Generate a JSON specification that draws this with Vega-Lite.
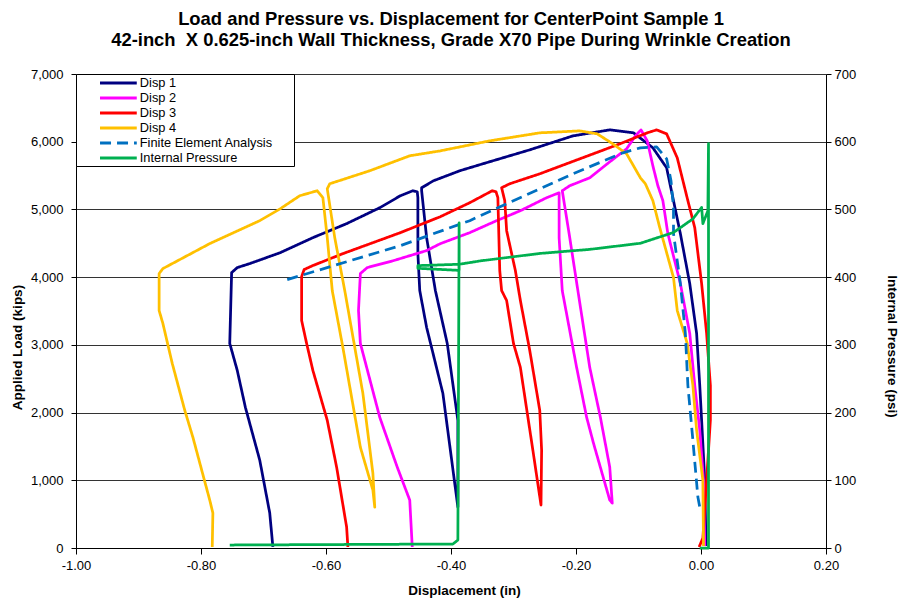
{
  "$schema": "https://vega.github.io/schema/vega-lite/v6.json",
  "width": 750,
  "height": 474,
  "autosize": {"type": "none"},
  "padding": {"left": 76, "top": 74, "right": 74, "bottom": 50},
  "background": "white",
  "title": {
    "text": ["Load and Pressure vs. Displacement for CenterPoint Sample 1", "42-inch\u00a0 X 0.625-inch Wall Thickness, Grade X70 Pipe During Wrinkle Creation"],
    "anchor": "middle",
    "fontSize": 18.4,
    "fontWeight": "bold",
    "font": "Liberation Sans",
    "color": "black",
    "lineHeight": 21,
    "offset": 18.5
  },
  "datasets": {
    "load": [
      {"series":"Disp 1","i":1,"disp":0.008,"load":29},
      {"series":"Disp 1","i":2,"disp":0.006,"load":1002},
      {"series":"Disp 1","i":3,"disp":0.001,"load":1886},
      {"series":"Disp 1","i":4,"disp":-0.002,"load":2402},
      {"series":"Disp 1","i":5,"disp":-0.007,"load":3168},
      {"series":"Disp 1","i":6,"disp":-0.018,"load":3905},
      {"series":"Disp 1","i":7,"disp":-0.033,"load":4642},
      {"series":"Disp 1","i":8,"disp":-0.044,"load":5129},
      {"series":"Disp 1","i":9,"disp":-0.055,"load":5615},
      {"series":"Disp 1","i":10,"disp":-0.077,"load":5910},
      {"series":"Disp 1","i":11,"disp":-0.108,"load":6131},
      {"series":"Disp 1","i":12,"disp":-0.146,"load":6175},
      {"series":"Disp 1","i":13,"disp":-0.205,"load":6086},
      {"series":"Disp 1","i":14,"disp":-0.274,"load":5880},
      {"series":"Disp 1","i":15,"disp":-0.349,"load":5674},
      {"series":"Disp 1","i":16,"disp":-0.386,"load":5571},
      {"series":"Disp 1","i":17,"disp":-0.428,"load":5423},
      {"series":"Disp 1","i":18,"disp":-0.447,"load":5320},
      {"series":"Disp 1","i":19,"disp":-0.447,"load":5276},
      {"series":"Disp 1","i":20,"disp":-0.439,"load":4583},
      {"series":"Disp 1","i":21,"disp":-0.425,"load":3802},
      {"series":"Disp 1","i":22,"disp":-0.406,"load":3021},
      {"series":"Disp 1","i":23,"disp":-0.389,"load":1886},
      {"series":"Disp 1","i":24,"disp":-0.389,"load":604},
      {"series":"Disp 1","i":25,"disp":-0.413,"load":2284},
      {"series":"Disp 1","i":26,"disp":-0.439,"load":3257},
      {"series":"Disp 1","i":27,"disp":-0.450,"load":3802},
      {"series":"Disp 1","i":28,"disp":-0.453,"load":4347},
      {"series":"Disp 1","i":29,"disp":-0.453,"load":5173},
      {"series":"Disp 1","i":30,"disp":-0.454,"load":5261},
      {"series":"Disp 1","i":31,"disp":-0.461,"load":5276},
      {"series":"Disp 1","i":32,"disp":-0.481,"load":5202},
      {"series":"Disp 1","i":33,"disp":-0.514,"load":5025},
      {"series":"Disp 1","i":34,"disp":-0.567,"load":4790},
      {"series":"Disp 1","i":35,"disp":-0.621,"load":4583},
      {"series":"Disp 1","i":36,"disp":-0.673,"load":4362},
      {"series":"Disp 1","i":37,"disp":-0.722,"load":4200},
      {"series":"Disp 1","i":38,"disp":-0.742,"load":4141},
      {"series":"Disp 1","i":39,"disp":-0.751,"load":4067},
      {"series":"Disp 1","i":40,"disp":-0.754,"load":3021},
      {"series":"Disp 1","i":41,"disp":-0.742,"load":2623},
      {"series":"Disp 1","i":42,"disp":-0.729,"load":2078},
      {"series":"Disp 1","i":43,"disp":-0.706,"load":1297},
      {"series":"Disp 1","i":44,"disp":-0.690,"load":516},
      {"series":"Disp 1","i":45,"disp":-0.685,"load":15},

      {"series":"Disp 2","i":1,"disp":0.006,"load":29},
      {"series":"Disp 2","i":2,"disp":0.004,"load":1002},
      {"series":"Disp 2","i":3,"disp":-0.002,"load":1739},
      {"series":"Disp 2","i":4,"disp":-0.010,"load":2402},
      {"series":"Disp 2","i":5,"disp":-0.018,"load":3168},
      {"series":"Disp 2","i":6,"disp":-0.033,"load":3905},
      {"series":"Disp 2","i":7,"disp":-0.053,"load":4642},
      {"series":"Disp 2","i":8,"disp":-0.061,"load":5129},
      {"series":"Disp 2","i":9,"disp":-0.069,"load":5350},
      {"series":"Disp 2","i":10,"disp":-0.077,"load":5644},
      {"series":"Disp 2","i":11,"disp":-0.086,"load":6013},
      {"series":"Disp 2","i":12,"disp":-0.096,"load":6175},
      {"series":"Disp 2","i":13,"disp":-0.105,"load":6086},
      {"series":"Disp 2","i":14,"disp":-0.119,"load":5895},
      {"series":"Disp 2","i":15,"disp":-0.150,"load":5674},
      {"series":"Disp 2","i":16,"disp":-0.178,"load":5467},
      {"series":"Disp 2","i":17,"disp":-0.210,"load":5350},
      {"series":"Disp 2","i":18,"disp":-0.222,"load":5276},
      {"series":"Disp 2","i":19,"disp":-0.210,"load":4583},
      {"series":"Disp 2","i":20,"disp":-0.197,"load":3802},
      {"series":"Disp 2","i":21,"disp":-0.178,"load":2667},
      {"series":"Disp 2","i":22,"disp":-0.161,"load":1931},
      {"series":"Disp 2","i":23,"disp":-0.146,"load":1194},
      {"series":"Disp 2","i":24,"disp":-0.142,"load":663},
      {"series":"Disp 2","i":25,"disp":-0.146,"load":707},
      {"series":"Disp 2","i":26,"disp":-0.172,"load":1547},
      {"series":"Disp 2","i":27,"disp":-0.183,"load":1931},
      {"series":"Disp 2","i":28,"disp":-0.199,"load":2667},
      {"series":"Disp 2","i":29,"disp":-0.222,"load":3802},
      {"series":"Disp 2","i":30,"disp":-0.227,"load":4583},
      {"series":"Disp 2","i":31,"disp":-0.227,"load":5246},
      {"series":"Disp 2","i":32,"disp":-0.247,"load":5173},
      {"series":"Disp 2","i":33,"disp":-0.289,"load":4981},
      {"series":"Disp 2","i":34,"disp":-0.327,"load":4834},
      {"series":"Disp 2","i":35,"disp":-0.370,"load":4657},
      {"series":"Disp 2","i":36,"disp":-0.417,"load":4495},
      {"series":"Disp 2","i":37,"disp":-0.439,"load":4392},
      {"series":"Disp 2","i":38,"disp":-0.492,"load":4244},
      {"series":"Disp 2","i":39,"disp":-0.534,"load":4141},
      {"series":"Disp 2","i":40,"disp":-0.545,"load":4053},
      {"series":"Disp 2","i":41,"disp":-0.548,"load":3507},
      {"series":"Disp 2","i":42,"disp":-0.545,"load":3021},
      {"series":"Disp 2","i":43,"disp":-0.514,"load":1931},
      {"series":"Disp 2","i":44,"disp":-0.486,"load":1194},
      {"series":"Disp 2","i":45,"disp":-0.466,"load":707},
      {"series":"Disp 2","i":46,"disp":-0.462,"load":15},

      {"series":"Disp 3","i":1,"disp":-0.003,"load":15},
      {"series":"Disp 3","i":2,"disp":0.003,"load":147},
      {"series":"Disp 3","i":3,"disp":0.009,"load":1002},
      {"series":"Disp 3","i":4,"disp":0.015,"load":1886},
      {"series":"Disp 3","i":5,"disp":0.015,"load":2402},
      {"series":"Disp 3","i":6,"disp":0.009,"load":3168},
      {"series":"Disp 3","i":7,"disp":0.001,"load":3905},
      {"series":"Disp 3","i":8,"disp":-0.010,"load":4731},
      {"series":"Disp 3","i":9,"disp":-0.021,"load":5129},
      {"series":"Disp 3","i":10,"disp":-0.038,"load":5762},
      {"series":"Disp 3","i":11,"disp":-0.055,"load":6116},
      {"series":"Disp 3","i":12,"disp":-0.071,"load":6175},
      {"series":"Disp 3","i":13,"disp":-0.086,"load":6131},
      {"series":"Disp 3","i":14,"disp":-0.130,"load":5968},
      {"series":"Disp 3","i":15,"disp":-0.258,"load":5526},
      {"series":"Disp 3","i":16,"disp":-0.306,"load":5379},
      {"series":"Disp 3","i":17,"disp":-0.319,"load":5320},
      {"series":"Disp 3","i":18,"disp":-0.314,"load":5129},
      {"series":"Disp 3","i":19,"disp":-0.311,"load":4686},
      {"series":"Disp 3","i":20,"disp":-0.297,"load":4097},
      {"series":"Disp 3","i":21,"disp":-0.289,"load":3655},
      {"series":"Disp 3","i":22,"disp":-0.274,"load":2918},
      {"series":"Disp 3","i":23,"disp":-0.258,"load":2034},
      {"series":"Disp 3","i":24,"disp":-0.255,"load":1444},
      {"series":"Disp 3","i":25,"disp":-0.256,"load":634},
      {"series":"Disp 3","i":26,"disp":-0.269,"load":1444},
      {"series":"Disp 3","i":27,"disp":-0.289,"load":2667},
      {"series":"Disp 3","i":28,"disp":-0.300,"load":3021},
      {"series":"Disp 3","i":29,"disp":-0.311,"load":3655},
      {"series":"Disp 3","i":30,"disp":-0.319,"load":3802},
      {"series":"Disp 3","i":31,"disp":-0.322,"load":4097},
      {"series":"Disp 3","i":32,"disp":-0.325,"load":5173},
      {"series":"Disp 3","i":33,"disp":-0.328,"load":5261},
      {"series":"Disp 3","i":34,"disp":-0.334,"load":5276},
      {"series":"Disp 3","i":35,"disp":-0.370,"load":5099},
      {"series":"Disp 3","i":36,"disp":-0.417,"load":4893},
      {"series":"Disp 3","i":37,"disp":-0.481,"load":4657},
      {"series":"Disp 3","i":38,"disp":-0.573,"load":4347},
      {"series":"Disp 3","i":39,"disp":-0.621,"load":4171},
      {"series":"Disp 3","i":40,"disp":-0.635,"load":4112},
      {"series":"Disp 3","i":41,"disp":-0.639,"load":4008},
      {"series":"Disp 3","i":42,"disp":-0.639,"load":3360},
      {"series":"Disp 3","i":43,"disp":-0.631,"load":3021},
      {"series":"Disp 3","i":44,"disp":-0.621,"load":2623},
      {"series":"Disp 3","i":45,"disp":-0.598,"load":1886},
      {"series":"Disp 3","i":46,"disp":-0.583,"load":1194},
      {"series":"Disp 3","i":47,"disp":-0.567,"load":309},
      {"series":"Disp 3","i":48,"disp":-0.565,"load":15},

      {"series":"Disp 4","i":1,"disp":0.004,"load":29},
      {"series":"Disp 4","i":2,"disp":0.003,"load":1002},
      {"series":"Disp 4","i":3,"disp":-0.007,"load":1739},
      {"series":"Disp 4","i":4,"disp":-0.013,"load":2402},
      {"series":"Disp 4","i":5,"disp":-0.022,"load":3021},
      {"series":"Disp 4","i":6,"disp":-0.038,"load":3507},
      {"series":"Disp 4","i":7,"disp":-0.044,"load":3994},
      {"series":"Disp 4","i":8,"disp":-0.066,"load":4731},
      {"series":"Disp 4","i":9,"disp":-0.077,"load":5129},
      {"series":"Disp 4","i":10,"disp":-0.089,"load":5379},
      {"series":"Disp 4","i":11,"disp":-0.097,"load":5467},
      {"series":"Disp 4","i":12,"disp":-0.119,"load":5821},
      {"series":"Disp 4","i":13,"disp":-0.141,"load":5968},
      {"series":"Disp 4","i":14,"disp":-0.166,"load":6116},
      {"series":"Disp 4","i":15,"disp":-0.194,"load":6160},
      {"series":"Disp 4","i":16,"disp":-0.258,"load":6131},
      {"series":"Disp 4","i":17,"disp":-0.338,"load":6013},
      {"series":"Disp 4","i":18,"disp":-0.417,"load":5865},
      {"series":"Disp 4","i":19,"disp":-0.466,"load":5792},
      {"series":"Disp 4","i":20,"disp":-0.530,"load":5571},
      {"series":"Disp 4","i":21,"disp":-0.594,"load":5379},
      {"series":"Disp 4","i":22,"disp":-0.598,"load":5305},
      {"series":"Disp 4","i":23,"disp":-0.586,"load":4583},
      {"series":"Disp 4","i":24,"disp":-0.570,"load":3802},
      {"series":"Disp 4","i":25,"disp":-0.541,"load":2284},
      {"series":"Disp 4","i":26,"disp":-0.525,"load":1105},
      {"series":"Disp 4","i":27,"disp":-0.522,"load":604},
      {"series":"Disp 4","i":28,"disp":-0.525,"load":855},
      {"series":"Disp 4","i":29,"disp":-0.545,"load":1488},
      {"series":"Disp 4","i":30,"disp":-0.573,"load":2962},
      {"series":"Disp 4","i":31,"disp":-0.590,"load":3802},
      {"series":"Disp 4","i":32,"disp":-0.598,"load":4583},
      {"series":"Disp 4","i":33,"disp":-0.605,"load":5173},
      {"series":"Disp 4","i":34,"disp":-0.614,"load":5276},
      {"series":"Disp 4","i":35,"disp":-0.642,"load":5202},
      {"series":"Disp 4","i":36,"disp":-0.673,"load":5011},
      {"series":"Disp 4","i":37,"disp":-0.706,"load":4834},
      {"series":"Disp 4","i":38,"disp":-0.786,"load":4495},
      {"series":"Disp 4","i":39,"disp":-0.861,"load":4126},
      {"series":"Disp 4","i":40,"disp":-0.867,"load":4053},
      {"series":"Disp 4","i":41,"disp":-0.867,"load":3507},
      {"series":"Disp 4","i":42,"disp":-0.861,"load":3316},
      {"series":"Disp 4","i":43,"disp":-0.846,"load":2726},
      {"series":"Disp 4","i":44,"disp":-0.826,"load":2034},
      {"series":"Disp 4","i":45,"disp":-0.813,"load":1636},
      {"series":"Disp 4","i":46,"disp":-0.786,"load":707},
      {"series":"Disp 4","i":47,"disp":-0.781,"load":516},
      {"series":"Disp 4","i":48,"disp":-0.782,"load":15},

      {"series":"Finite Element Analysis","i":1,"disp":-0.662,"load":3964},
      {"series":"Finite Element Analysis","i":2,"disp":-0.481,"load":4465},
      {"series":"Finite Element Analysis","i":3,"disp":-0.370,"load":4834},
      {"series":"Finite Element Analysis","i":4,"disp":-0.311,"load":5084},
      {"series":"Finite Element Analysis","i":5,"disp":-0.205,"load":5526},
      {"series":"Finite Element Analysis","i":6,"disp":-0.125,"load":5836},
      {"series":"Finite Element Analysis","i":7,"disp":-0.097,"load":5910},
      {"series":"Finite Element Analysis","i":8,"disp":-0.071,"load":5924},
      {"series":"Finite Element Analysis","i":9,"disp":-0.055,"load":5747},
      {"series":"Finite Element Analysis","i":10,"disp":-0.048,"load":5423},
      {"series":"Finite Element Analysis","i":11,"disp":-0.044,"load":5025},
      {"series":"Finite Element Analysis","i":12,"disp":-0.044,"load":4642},
      {"series":"Finite Element Analysis","i":13,"disp":-0.033,"load":3905},
      {"series":"Finite Element Analysis","i":14,"disp":-0.025,"load":3168},
      {"series":"Finite Element Analysis","i":15,"disp":-0.021,"load":2402},
      {"series":"Finite Element Analysis","i":16,"disp":-0.013,"load":1592},
      {"series":"Finite Element Analysis","i":17,"disp":-0.005,"load":752},
      {"series":"Finite Element Analysis","i":18,"disp":-0.002,"load":604}
    ],
    "pressure": [
      {"series":"Internal Pressure","i":1,"disp":-0.754,"psi":4.4},
      {"series":"Internal Pressure","i":2,"disp":-0.397,"psi":5.9},
      {"series":"Internal Pressure","i":3,"disp":-0.389,"psi":11.8},
      {"series":"Internal Pressure","i":4,"disp":-0.387,"psi":480},
      {"series":"Internal Pressure","i":5,"disp":-0.387,"psi":410},
      {"series":"Internal Pressure","i":6,"disp":-0.453,"psi":413},
      {"series":"Internal Pressure","i":7,"disp":-0.453,"psi":417},
      {"series":"Internal Pressure","i":8,"disp":-0.387,"psi":419},
      {"series":"Internal Pressure","i":9,"disp":-0.353,"psi":424},
      {"series":"Internal Pressure","i":10,"disp":-0.258,"psi":435},
      {"series":"Internal Pressure","i":11,"disp":-0.178,"psi":441},
      {"series":"Internal Pressure","i":12,"disp":-0.097,"psi":450},
      {"series":"Internal Pressure","i":13,"disp":-0.044,"psi":466},
      {"series":"Internal Pressure","i":14,"disp":-0.013,"psi":486},
      {"series":"Internal Pressure","i":15,"disp":0.001,"psi":503},
      {"series":"Internal Pressure","i":16,"disp":0.003,"psi":479},
      {"series":"Internal Pressure","i":17,"disp":0.011,"psi":498},
      {"series":"Internal Pressure","i":18,"disp":0.012,"psi":597},
      {"series":"Internal Pressure","i":19,"disp":0.012,"psi":0},
      {"series":"Internal Pressure","i":20,"disp":-0.002,"psi":0}
    ]
  },
  "layer": [
    {
      "data": {"name": "load"},
      "mark": {"type": "line", "strokeWidth": 2.75, "strokeJoin": "round", "strokeCap": "butt"},
      "encoding": {
        "x": {
          "field": "disp", "type": "quantitative",
          "scale": {"domain": [-1, 0.2], "nice": false, "zero": false},
          "axis": {
            "values": [-1, -0.8, -0.6, -0.4, -0.2, 0, 0.2],
            "labelExpr": "replace(format(datum.value, '.2f'), '\u2212', '-')",
            "labelFlush": false,
            "title": "Displacement (in)", "grid": false,
            "tickSize": 6, "labelPadding": 5,
            "titleX": 388, "titleY": 42, "titleBaseline": "middle"
          }
        },
        "y": {
          "field": "load", "type": "quantitative",
          "scale": {"domain": [0, 7000], "nice": false},
          "axis": {
            "values": [0, 1000, 2000, 3000, 4000, 5000, 6000, 7000], "format": ",.0f",
            "title": "Applied Load (kips)", "grid": true, "orient": "left",
            "tickSize": 5, "labelPadding": 8,
            "titleX": -59, "titleY": 273, "titleBaseline": "middle"
          }
        },
        "color": {
          "field": "series", "type": "nominal",
          "scale": {
            "domain": ["Disp 1", "Disp 2", "Disp 3", "Disp 4", "Finite Element Analysis", "Internal Pressure"],
            "range": ["#000080", "#FF00FF", "#FF0000", "#FFC000", "#0070C0", "#00B050"]
          },
          "legend": {"title": "\u00a0", "orient": "none", "legendX": 0, "legendY": 0}
        },
        "strokeDash": {
          "field": "series", "type": "nominal",
          "scale": {
            "domain": ["Disp 1", "Disp 2", "Disp 3", "Disp 4", "Finite Element Analysis", "Internal Pressure"],
            "range": [[1, 0], [1, 0], [1, 0], [1, 0], [11, 6], [1, 0]]
          },
          "legend": {"title": "\u00a0", "orient": "none", "legendX": 0, "legendY": 0}
        },
        "order": {"field": "i", "type": "quantitative"}
      }
    },
    {
      "data": {"name": "pressure"},
      "mark": {"type": "line", "strokeWidth": 2.75, "strokeJoin": "round"},
      "encoding": {
        "x": {"field": "disp", "type": "quantitative"},
        "y": {
          "field": "psi", "type": "quantitative",
          "scale": {"domain": [0, 700], "nice": false},
          "axis": {
            "values": [0, 100, 200, 300, 400, 500, 600, 700],
            "title": "Internal Pressure (psi)", "grid": false, "orient": "right",
            "tickSize": 5, "labelPadding": 3,
            "titleX": 65, "titleY": 272, "titleBaseline": "middle"
          }
        },
        "color": {"field": "series", "type": "nominal", "legend": {"title": "\u00a0", "orient": "none", "legendX": 0, "legendY": 0}},
        "strokeDash": {"field": "series", "type": "nominal", "legend": {"title": "\u00a0", "orient": "none", "legendX": 0, "legendY": 0}},
        "order": {"field": "i", "type": "quantitative"}
      }
    }
  ],
  "resolve": {"scale": {"y": "independent"}},
  "config": {
    "font": "Liberation Sans",
    "view": {"stroke": null},
    "axis": {
      "labelFont": "Liberation Sans",
      "titleFont": "Liberation Sans",
      "labelFontSize": 13,
      "titleFontSize": 13.5,
      "titleFontWeight": "bold",
      "labelColor": "black",
      "titleColor": "black",
      "domainColor": "black",
      "tickColor": "black",
      "gridColor": "#333333",
      "gridWidth": 1,
      "domainWidth": 1
    },
    "legend": {
      "labelFont": "Liberation Sans",
      "labelFontSize": 12.8,
      "labelColor": "black",
      "titleOrient": "right",
      "titleFontSize": 4,
      "titlePadding": 20,
      "titleAnchor": "start",
      "symbolType": "M-3,0H3",
      "symbolSize": 150,
      "symbolStrokeWidth": 3,
      "symbolOffset": 33.4,
      "labelOffset": 13.4,
      "rowPadding": -0.5,
      "padding": 1,
      "fillColor": "white",
      "strokeColor": "black",
      "cornerRadius": 0
    }
  }
}
